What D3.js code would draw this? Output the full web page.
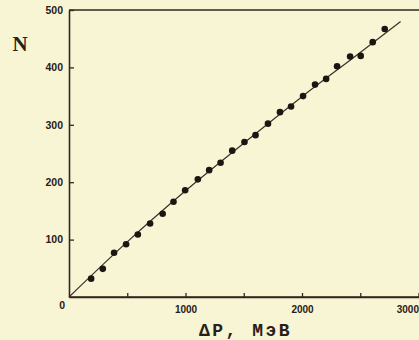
<!DOCTYPE html>
<html>
<head>
<meta charset="utf-8">
<script src="https://cdn.jsdelivr.net/npm/d3@7"></script>
<style>
  html, body { margin: 0; padding: 0; background: #f7f5d4; }
  svg { display: block; }
</style>
</head>
<body>
<script>
// Data
const energy = [190, 290, 387, 490, 591, 696, 804, 897, 997, 1106, 1203, 1301, 1401, 1506, 1601, 1708, 1811, 1906, 2009, 2112, 2207, 2301, 2413, 2504, 2607, 2710];
const counts = [32, 49, 77, 92, 109, 128, 145, 166, 186, 205, 221, 234, 255, 270, 282, 302, 322, 332, 350, 370, 380, 402, 419, 420, 444, 467];
const fitEnergy = [0, 500, 1000, 1500, 2000, 2500, 2846];
const fitCounts = [0, 96, 185, 268, 349, 426, 480];
const xTicks = [500, 1000, 1500, 2000, 2500, 3000];
const xTickLabels = ["", "1000", "", "2000", "", "3000"];
const yTicks = [0, 100, 200, 300, 400, 500];
const yTickLabels = ["0", "100", "200", "300", "400", "500"];
const yTitle = "N";
const xTitle = "ΔP, МэВ";

const W = 419, H = 340;
const ink = "#33261e";
const svg = d3.select("body").append("svg").attr("width", W).attr("height", H);
svg.append("rect").attr("width", W).attr("height", H).attr("fill", "#f7f5d4");

const x = d3.scaleLinear().domain([0, 3000]).range([69, 418.5]);
const y = d3.scaleLinear().domain([0, 500]).range([297, 10]);

// Top frame line
svg.append("line")
  .attr("x1", x(0)).attr("x2", W).attr("y1", y(500)).attr("y2", y(500))
  .attr("stroke", ink).attr("stroke-width", 1.4);

// Y axis
const yAxis = svg.append("g").attr("transform", `translate(${x(0)},0)`)
  .call(d3.axisLeft(y).tickValues(yTicks).tickSize(-5).tickSizeOuter(0).tickPadding(6)
    .tickFormat((d, i) => yTickLabels[i]));
yAxis.select(".domain").attr("stroke", ink).attr("stroke-width", 1.6);
yAxis.selectAll(".tick line").attr("stroke", ink).attr("stroke-width", 1.3);
yAxis.selectAll(".tick text")
  .attr("font-family", "'Liberation Sans', Arial, sans-serif")
  .attr("font-weight", "bold").attr("font-size", 10.5).attr("fill", "#2a2018");
yAxis.selectAll(".tick").filter(d => d === 0).select("text")
  .attr("dy", "1.05em").attr("dx", "0.2em");
yAxis.selectAll(".tick").filter(d => d === 0).select("line").remove();

// X axis
const xAxis = svg.append("g").attr("transform", `translate(0,${y(0)})`)
  .call(d3.axisBottom(x).tickValues(xTicks).tickSize(-4).tickSizeOuter(0).tickPadding(9)
    .tickFormat((d, i) => xTickLabels[i]));
xAxis.select(".domain").attr("stroke", ink).attr("stroke-width", 1.3);
xAxis.selectAll(".tick line").attr("stroke", ink).attr("stroke-width", 1.3);
xAxis.selectAll(".tick text")
  .attr("font-family", "'Liberation Sans', Arial, sans-serif")
  .attr("font-weight", "bold").attr("font-size", 10).attr("fill", "#2a2018");
xAxis.selectAll(".tick").filter(d => d === 3000).select("text").attr("text-anchor", "end");
// extend x axis line to the right edge
svg.append("line").attr("x1", x(0)).attr("x2", W).attr("y1", y(0)).attr("y2", y(0))
  .attr("stroke", ink).attr("stroke-width", 1.3);

// Fit curve
const fit = fitEnergy.map((e, i) => [e, fitCounts[i]]);
svg.append("path").datum(fit)
  .attr("fill", "none").attr("stroke", "#3a302a").attr("stroke-width", 1.2)
  .attr("d", d3.line().x(d => x(d[0])).y(d => y(d[1])).curve(d3.curveMonotoneX));

// Points
svg.append("g").selectAll("circle").data(energy.map((e, i) => [e, counts[i]]))
  .join("circle")
  .attr("cx", d => x(d[0])).attr("cy", d => y(d[1])).attr("r", 3.3)
  .attr("fill", "#1c1612");

// Titles
svg.append("text").attr("x", 20).attr("y", 50.5).attr("text-anchor", "middle")
  .attr("font-family", "'Liberation Serif', 'DejaVu Serif', serif")
  .attr("font-weight", "bold").attr("font-size", 21).attr("fill", "#2a2018")
  .text(yTitle);
svg.append("text").attr("x", 199).attr("y", 336).attr("text-anchor", "start")
  .attr("font-family", "'Liberation Mono', 'DejaVu Sans Mono', monospace")
  .attr("font-weight", "bold").attr("font-size", 18).attr("letter-spacing", 2.5)
  .attr("fill", "#2a2018")
  .text(xTitle);
</script>
</body>
</html>
